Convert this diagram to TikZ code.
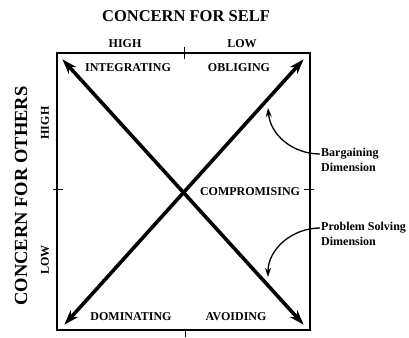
\documentclass[tikz,border=0pt]{standalone}
\usepackage{fontspec}
\setmainfont{Liberation Serif}
\usetikzlibrary{arrows.meta}
\tikzset{
  lbl/.style={font=\fontsize{12}{14}\selectfont\bfseries, inner sep=1pt},
  axis/.style={font=\fontsize{16.5}{18}\selectfont\bfseries, inner sep=1pt},
  side/.style={font=\fontsize{12}{15.5}\selectfont\bfseries, align=left, inner sep=1pt, anchor=west},
  diag/.style={line width=3.6pt, {Stealth[length=15pt,width=10pt]}-{Stealth[length=15pt,width=10pt]}, shorten <=-1pt, shorten >=-1pt},
  pointer/.style={line width=1.3pt, -{Stealth[length=9pt,width=6pt]}}
}
\begin{document}
\begin{tikzpicture}[x=1pt, y=-1pt]
		%%%%% START %%%%%
		\useasboundingbox (0, 0) rectangle (409, 337);
		
		\draw[line width=1.3pt] (57, 53) rectangle (310, 330);
		\draw[line width=0.9pt] (184, 47) -- (184, 59);
		\draw[line width=0.9pt] (53, 189) -- (63, 189);
		\draw[line width=0.9pt] (185, 330) -- (185, 337);
		\draw[line width=0.9pt] (304, 189) -- (314, 189);
		
		\node[axis] (self) at (186, 16) {CONCERN FOR SELF};
		\node[axis, font=\fontsize{18.5}{20}\selectfont\bfseries, rotate=90] (others) at (21, 196) {CONCERN FOR OTHERS};
		
		\node[lbl] (selfhigh) at (125, 44) {HIGH};
		\node[lbl] (selflow) at (242, 44) {LOW};
		\node[lbl, rotate=90] (othhigh) at (45, 123) {HIGH};
		\node[lbl, rotate=90] (othlow) at (45, 260) {LOW};
		
		\node[lbl] (integ) at (128, 68) {INTEGRATING};
		\node[lbl] (oblig) at (239, 68) {OBLIGING};
		\node[lbl] (comprom) at (250, 192) {COMPROMISING};
		\node[lbl] (domin) at (131, 317) {DOMINATING};
		\node[lbl] (avoid) at (236, 317) {AVOIDING};
		
		\coordinate (ul) at (63, 60);
		\coordinate (ur) at (303, 60);
		\coordinate (dl) at (65, 324);
		\coordinate (dr) at (303, 324);
		\draw[diag] (dl) -- (ur);
		\draw[diag] (ul) -- (dr);
		
		\node[side] (barg) at (320, 160) {Bargaining\\Dimension};
		\node[side] (probsolv) at (320, 234) {Problem Solving\\Dimension};
		\coordinate (bargtip) at (268, 108);
		\coordinate (probtip) at (268, 277);
		\draw[pointer] ([yshift=6pt]barg.west) to[out=180, in=-85] (bargtip);
		\draw[pointer] ([yshift=6pt]probsolv.west) to[out=180, in=90] (probtip);
		
		%%%%% END %%%%%
\end{tikzpicture}
\end{document}
